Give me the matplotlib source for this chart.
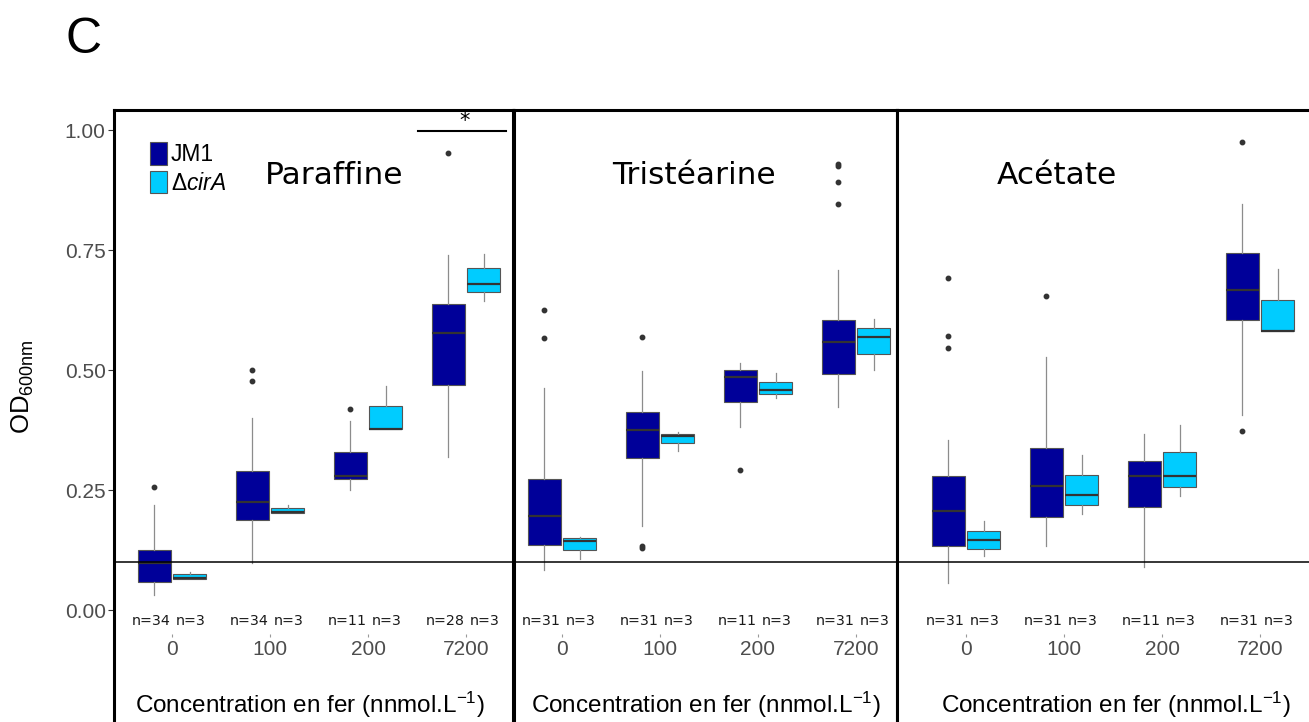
import matplotlib
matplotlib.use("Agg")
import matplotlib.pyplot as plt
from matplotlib.patches import Patch

plt.rcParams['mathtext.fontset'] = 'custom'
plt.rcParams['mathtext.rm'] = 'Liberation Sans'
plt.rcParams['mathtext.it'] = 'Liberation Sans:italic'

# Données
concentrations = ["0", "100", "200", "7200"]
milieux = ["Paraffine", "Tristéarine", "Acétate"]

# (moustache basse, q1, médiane, q3, moustache haute)
paraffine_jm1 = [(0.031, 0.058, 0.098, 0.125, 0.219), (0.097, 0.188, 0.224, 0.289, 0.399),
                 (0.249, 0.272, 0.279, 0.329, 0.394), (0.319, 0.469, 0.577, 0.637, 0.740)]
paraffine_jm1_out = [[0.256], [0.478, 0.500], [0.419], [0.953]]
paraffine_cira = [(0.065, 0.065, 0.066, 0.074, 0.080), (0.203, 0.203, 0.205, 0.212, 0.218),
                  (0.377, 0.377, 0.378, 0.424, 0.467), (0.644, 0.663, 0.680, 0.712, 0.742)]
paraffine_cira_out = [[], [], [], []]
paraffine_n = [34, 34, 11, 28]

tristearine_jm1 = [(0.083, 0.135, 0.196, 0.273, 0.462), (0.175, 0.317, 0.375, 0.413, 0.498),
                   (0.382, 0.433, 0.486, 0.501, 0.515), (0.422, 0.491, 0.558, 0.604, 0.708)]
tristearine_jm1_out = [[0.567, 0.625], [0.130, 0.134, 0.569], [0.292], [0.846, 0.892, 0.924, 0.930]]
tristearine_cira = [(0.106, 0.125, 0.144, 0.149, 0.153), (0.331, 0.347, 0.362, 0.366, 0.370),
                    (0.441, 0.449, 0.459, 0.476, 0.494), (0.501, 0.533, 0.568, 0.588, 0.606)]
tristearine_cira_out = [[], [], [], []]
tristearine_n = [31, 31, 11, 31]

acetate_jm1 = [(0.057, 0.134, 0.206, 0.279, 0.354), (0.134, 0.194, 0.258, 0.337, 0.528),
               (0.090, 0.215, 0.279, 0.311, 0.367), (0.406, 0.604, 0.667, 0.743, 0.846)]
acetate_jm1_out = [[0.546, 0.571, 0.691], [0.655], [], [0.372, 0.974]]
acetate_cira = [(0.113, 0.128, 0.146, 0.165, 0.186), (0.199, 0.219, 0.239, 0.281, 0.323),
                (0.238, 0.257, 0.279, 0.330, 0.385), (0.582, 0.582, 0.582, 0.646, 0.710)]
acetate_cira_out = [[], [], [], []]
acetate_n = [31, 31, 11, 31]

n_cira = [3, 3, 3, 3]

seuil = 0.1

# Couleurs
BLEU_FONCE = "#000099"
BLEU_CLAIR = "#00ccff"
GRIS_TXT = "#4d4d4d"

W, H = 1309, 722
fig = plt.figure(figsize=(W / 100, H / 100), dpi=100)

Y_HAUT, Y_BAS = 110, 760
ylim = ((610 - Y_BAS) / 480, (610 - Y_HAUT) / 480)

# bords des panneaux (px) et position du premier groupe
panneaux = [(114, 513, 172), (514, 897, 562), (897, 1330, 966)]
PAS = 98.0


def stats(liste, outs):
    return [dict(whislo=a, q1=b, med=c, q3=d, whishi=e, fliers=f)
            for (a, b, c, d, e), f in zip(liste, outs)]


def boites(ax, st, pos, couleur):
    ax.bxp(st, positions=pos, widths=0.34, patch_artist=True, showcaps=False,
           boxprops=dict(facecolor=couleur, edgecolor="#555555", linewidth=0.8),
           medianprops=dict(color="#333333", linewidth=1.6),
           whiskerprops=dict(color="#8c8c8c", linewidth=0.9),
           flierprops=dict(marker="o", markerfacecolor="#333333",
                           markeredgecolor="#333333", markersize=3.2))


donnees = [
    (paraffine_jm1, paraffine_jm1_out, paraffine_cira, paraffine_cira_out, paraffine_n),
    (tristearine_jm1, tristearine_jm1_out, tristearine_cira, tristearine_cira_out, tristearine_n),
    (acetate_jm1, acetate_jm1_out, acetate_cira, acetate_cira_out, acetate_n),
]
titres_x = [2.653, 2.347, 1.929]
xlabel_x = [2.41, 2.47, 2.53]

axes = []
for k, ((g, d, x0), (jm1, jm1_out, cira, cira_out, n_jm1)) in enumerate(zip(panneaux, donnees)):
    ax = fig.add_axes([g / W, 1 - Y_BAS / H, (d - g) / W, (Y_BAS - Y_HAUT) / H])
    axes.append(ax)
    x = [1, 2, 3, 4]
    boites(ax, stats(jm1, jm1_out), [v - 0.18 for v in x], BLEU_FONCE)
    boites(ax, stats(cira, cira_out), [v + 0.18 for v in x], BLEU_CLAIR)
    ax.axhline(seuil, color="black", linewidth=1.1, zorder=10)

    ax.set_xlim(1 + (g - x0) / PAS, 1 + (d - x0) / PAS)
    ax.set_ylim(*ylim)
    for s in ax.spines.values():
        s.set_linewidth(2.2)
        s.set_color("black")
    ax.set_xticks([])

    for i, c in enumerate(concentrations):
        ax.text(x[i] - 0.21, -0.022, f"n={n_jm1[i]}", ha="center", va="center",
                fontsize=10.3, family="DejaVu Sans", color="#1a1a1a")
        ax.text(x[i] + 0.19, -0.022, f"n={n_cira[i]}", ha="center", va="center",
                fontsize=10.3, family="DejaVu Sans", color="#1a1a1a")
        ax.vlines(x[i], -0.057, -0.051, color="#999999", linewidth=0.8)
        ax.text(x[i], -0.083, c, ha="center", va="center", fontsize=15,
                family="Liberation Sans", color=GRIS_TXT)

    ax.text(xlabel_x[k], -0.198, r"Concentration en fer (nnmol.L$^{\mathregular{-1}}$)",
            ha="center", va="center", fontsize=17.5, family="Liberation Sans")
    ax.text(titres_x[k], 0.906, milieux[k], ha="center", va="center",
            fontsize=22.5, family="DejaVu Sans")

    if k == 0:
        ax.set_yticks([0, 0.25, 0.5, 0.75, 1.0])
        ax.set_yticklabels(["0.00", "0.25", "0.50", "0.75", "1.00"])
        ax.tick_params(axis="y", length=4, width=0.8, color="#333333", pad=2,
                       labelsize=15, labelcolor=GRIS_TXT)
        for t in ax.get_yticklabels():
            t.set_family("Liberation Sans")
        ax.set_ylabel(r"OD$_{\mathregular{600nm}}$", fontsize=18.5, family="Liberation Sans")
        ax.yaxis.set_label_coords(-0.195, (Y_BAS - 387) / (Y_BAS - Y_HAUT))
        # barre de significativité
        ax.plot([3.51, 4.408], [0.998, 0.998], color="black", linewidth=1.5)
        ax.text(3.99, 1.018, "*", ha="center", va="center", fontsize=15,
                family="DejaVu Sans")
        poignees = [Patch(facecolor=BLEU_FONCE, edgecolor="#555555", linewidth=0.8),
                    Patch(facecolor=BLEU_CLAIR, edgecolor="#555555", linewidth=0.8)]
        ax.legend(poignees, ["JM1", r"$\Delta\mathit{cirA}$"], loc="upper left",
                  bbox_to_anchor=((150 - g) / (d - g), (Y_BAS - 142) / (Y_BAS - Y_HAUT)),
                  frameon=False, borderpad=0, borderaxespad=0, handlelength=0.75,
                  handleheight=1.15, handletextpad=0.15, labelspacing=0.2,
                  prop=dict(family="Liberation Sans", size=16.5))
    else:
        ax.set_yticks([])

fig.text(84 / W, 1 - 40 / H, "C", ha="center", va="center", fontsize=36,
         family="Liberation Sans")

fig.savefig("out.png", dpi=100)
